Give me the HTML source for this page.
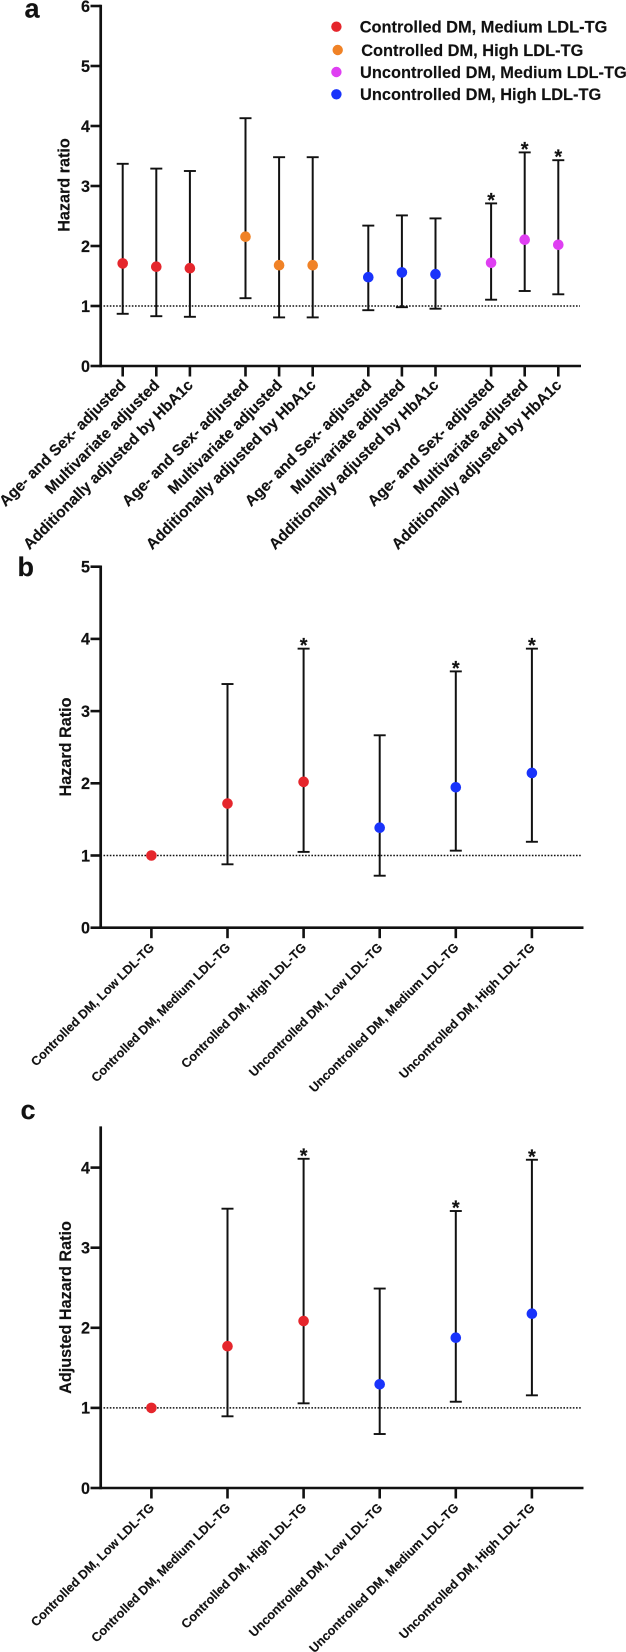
<!DOCTYPE html>
<html lang="en">
<head>
<meta charset="utf-8">
<title>Hazard ratio charts</title>
<style>
  html, body { margin: 0; padding: 0; background: #fff; }
  svg { display: block; filter: blur(0.3px); }
  text { font-family: "Liberation Sans", Arial, sans-serif; font-weight: 700; fill: #111; stroke: #111; stroke-width: 0.15; }
</style>
</head>
<body>
<svg id="figure" xmlns="http://www.w3.org/2000/svg" width="626" height="1652" viewBox="0 0 626 1652"></svg>
<script>
// ---- Panel a data ----
const aCategories = [
  "Age- and Sex- adjusted", "Multivariate adjusted", "Additionally adjusted by HbA1c",
  "Age- and Sex- adjusted", "Multivariate adjusted", "Additionally adjusted by HbA1c",
  "Age- and Sex- adjusted", "Multivariate adjusted", "Additionally adjusted by HbA1c",
  "Age- and Sex- adjusted", "Multivariate adjusted", "Additionally adjusted by HbA1c"
];
const aMean  = [1.71, 1.655, 1.63, 2.155, 1.68, 1.68, 1.48, 1.56, 1.53, 1.72, 2.105, 2.02];
const aUpper = [3.37, 3.29, 3.25, 4.13, 3.48, 3.48, 2.34, 2.51, 2.46, 2.71, 3.56, 3.43];
const aLower = [0.87, 0.83, 0.82, 1.13, 0.81, 0.81, 0.93, 0.98, 0.955, 1.105, 1.25, 1.195];
const aGroup = ["cm", "cm", "cm", "ch", "ch", "ch", "uh", "uh", "uh", "um", "um", "um"];
const aStar  = [0, 0, 0, 0, 0, 0, 0, 0, 0, 1, 1, 1];
const aTicks = [0, 1, 2, 3, 4, 5, 6];

// ---- Panel b data ----
const bCategories = [
  "Controlled DM, Low LDL-TG", "Controlled DM, Medium LDL-TG", "Controlled DM, High LDL-TG",
  "Uncontrolled DM, Low LDL-TG", "Uncontrolled DM, Medium LDL-TG", "Uncontrolled DM, High LDL-TG"
];
const bMean  = [1, 1.72, 2.02, 1.385, 1.945, 2.143];
const bUpper = [1, 3.375, 3.865, 2.665, 3.55, 3.865];
const bLower = [1, 0.878, 1.05, 0.72, 1.067, 1.19];
const bGroup = ["cm", "cm", "cm", "uh", "uh", "uh"];
const bStar  = [0, 0, 1, 0, 1, 1];
const bTicks = [0, 1, 2, 3, 4, 5];

// ---- Panel c data ----
const cCategories = [
  "Controlled DM, Low LDL-TG", "Controlled DM, Medium LDL-TG", "Controlled DM, High LDL-TG",
  "Uncontrolled DM, Low LDL-TG", "Uncontrolled DM, Medium LDL-TG", "Uncontrolled DM, High LDL-TG"
];
const cMean  = [1, 1.77, 2.085, 1.295, 1.876, 2.176];
const cUpper = [1, 3.487, 4.11, 2.49, 3.458, 4.098];
const cLower = [1, 0.895, 1.057, 0.674, 1.077, 1.157];
const cGroup = ["cm", "cm", "cm", "uh", "uh", "uh"];
const cStar  = [0, 0, 1, 0, 1, 1];
const cTicks = [0, 1, 2, 3, 4];

// ---- Legend data ----
const legendLabels = [
  "Controlled DM, Medium LDL-TG",
  "Controlled DM, High LDL-TG",
  "Uncontrolled DM, Medium LDL-TG",
  "Uncontrolled DM, High LDL-TG"
];
const legendGroups = ["cm", "ch", "um", "uh"];

const palette = { cm: "#e5262c", ch: "#f08226", um: "#df3ff2", uh: "#1933fb" };
const svg = document.getElementById("figure");
const NS = "http://www.w3.org/2000/svg";

function mk(tag, parent, props) {
  const el = document.createElementNS(NS, tag);
  for (const k in props) el.setAttribute(k, props[k]);
  parent.appendChild(el);
  return el;
}

function line(parent, x1, y1, x2, y2, w, extra) {
  return mk("line", parent, Object.assign({ x1: x1, y1: y1, x2: x2, y2: y2, stroke: "#111", "stroke-width": w }, extra || {}));
}

function drawPanel(cfg) {
  const g = mk("g", svg, {});
  
  
  const yS = v => cfg.y0 - v * cfg.unit;
  const axisX = 100.7;
  const yTop = yS(cfg.yMax);

  // reference line at HR = 1
  const ref = line(g, 103.5, yS(1), cfg.refEnd, yS(1), 1.5, { "stroke-dasharray": "1.6 1.55" });
  
  

  // y axis
  const yAxis = line(g, axisX, yTop - 1.2, axisX, cfg.y0 + 1.3, 2.7);
  
  
  cfg.ticks.forEach(t => {
    const tk = line(g, 90.5, yS(t), axisX, yS(t), 2.6);
    
    
    const lb = mk("text", g, { x: 90, y: yS(t) + 5.8, "text-anchor": "end", "font-size": 16.2 });
    lb.textContent = t;
    
    
  });

  // y axis title
  const title = mk("text", g, {
    transform: "translate(" + cfg.titleX + " " + cfg.titleY + ") rotate(-90)",
    "text-anchor": "middle", "font-size": 16.2
  });
  title.textContent = cfg.title;
  
  

  // x axis
  const xAxis = line(g, axisX, cfg.y0, cfg.axisEnd, cfg.y0, 2.6);
  
  

  cfg.categories.forEach((cat, i) => {
    const x = cfg.xS(i);
    const tk = line(g, x, cfg.y0, x, cfg.y0 + 10.5, 2.6);
    
    
    const lb = mk("text", g, {
      transform: "translate(" + (x + cfg.labelDx) + " " + (cfg.y0 + cfg.labelDy) + ") rotate(-45)",
      "text-anchor": "end", "font-size": cfg.labelSize
    });
    lb.textContent = cat;
    
    

    const item = mk("g", g, {});
    
    
    const up = yS(cfg.upper[i]);
    const lo = yS(cfg.lower[i]);
    if (cfg.upper[i] !== cfg.lower[i]) {
      line(item, x, up, x, lo, 2);
      line(item, x - 6, up, x + 6, up, 1.9);
      line(item, x - 6, lo, x + 6, lo, 1.9);
    }
    mk("circle", item, { cx: x, cy: yS(cfg.mean[i]), r: 5.3, fill: palette[cfg.group[i]] });
    if (cfg.star[i]) {
      const st = mk("text", g, { x: x, y: up + 3.5, "text-anchor": "middle", "font-size": 20 });
      st.textContent = "*";
      
      
    }
  });

  // panel letter
  const letter = mk("text", g, { x: cfg.letterX, y: cfg.letterY, "font-size": 27 });
  letter.textContent = cfg.letter;
  
  
}

drawPanel({
  name: "panel-a-chart", letter: "a", letterX: 24.5, letterY: 17.5,
  y0: 366, unit: 60, yMax: 6, ticks: aTicks, axisEnd: 581, refEnd: 580,
  title: "Hazard ratio", titleX: 69.5, titleY: 185,
  categories: aCategories, mean: aMean, upper: aUpper, lower: aLower, group: aGroup, star: aStar,
  xS: i => 122.7 + 33.6 * i + 22 * Math.floor(i / 3),
  labelDx: 4, labelDy: 20, labelSize: 15.5
});

drawPanel({
  name: "panel-b-chart", letter: "b", letterX: 17.5, letterY: 576,
  y0: 927.7, unit: 72.2, yMax: 5, ticks: bTicks, axisEnd: 583.5, refEnd: 582,
  title: "Hazard Ratio", titleX: 71, titleY: 747,
  categories: bCategories, mean: bMean, upper: bUpper, lower: bLower, group: bGroup, star: bStar,
  xS: i => 151.4 + 76.1 * i,
  labelDx: 3.5, labelDy: 20.5, labelSize: 12.6
});

drawPanel({
  name: "panel-c-chart", letter: "c", letterX: 20.5, letterY: 1119,
  y0: 1488, unit: 80.1, yMax: 4.5, ticks: cTicks, axisEnd: 583.5, refEnd: 582,
  title: "Adjusted Hazard Ratio", titleX: 71, titleY: 1307.5,
  categories: cCategories, mean: cMean, upper: cUpper, lower: cLower, group: cGroup, star: cStar,
  xS: i => 151.4 + 76.1 * i,
  labelDx: 3.5, labelDy: 20.5, labelSize: 12.6
});

// Legend
const legend = mk("g", svg, {});


const legendRowY = [26.7, 50, 72, 94.3];
const legendMarkerX = [336.4, 337.7, 336.4, 336.4];
const legendTextX = [359.7, 361.2, 360, 360];
legendLabels.forEach((label, i) => {
  const row = mk("g", legend, {});
  
  
  mk("circle", row, { cx: legendMarkerX[i], cy: legendRowY[i], r: 5.2, fill: palette[legendGroups[i]] });
  const t = mk("text", row, { x: legendTextX[i], y: legendRowY[i] + 5.8, "font-size": 16.4 });
  t.textContent = label;
});
</script>
</body>
</html>
